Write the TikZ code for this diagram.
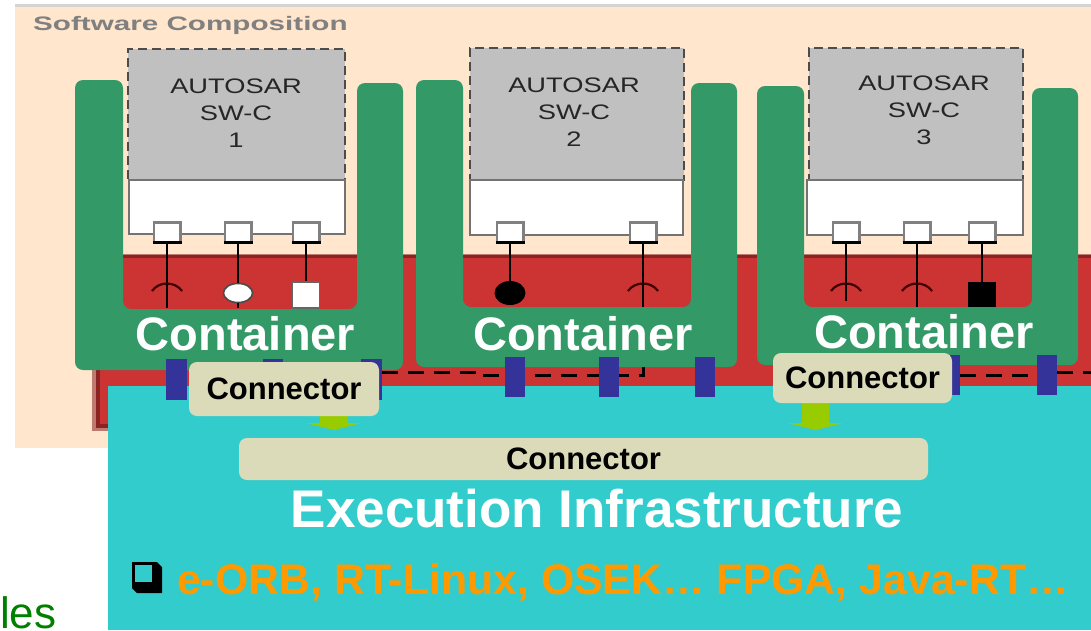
\documentclass[tikz,border=0pt]{standalone}
\usepackage{fontspec}
\usetikzlibrary{shapes.geometric}
\setmainfont{Liberation Sans}
\newfontfamily\widesans[FakeStretch=1.3]{Liberation Sans}
\newfontfamily\scfont[FakeStretch=1.52]{Liberation Sans}
\newcommand\pxsize[1]{\fontsize{#1}{#1}\selectfont}
\definecolor{peach}{HTML}{FFE6CC}
\definecolor{busred}{HTML}{CC3333}
\definecolor{darkred}{HTML}{8B2323}
\definecolor{cgreen}{HTML}{339966}
\definecolor{cyanbg}{HTML}{33CCCC}
\definecolor{padblue}{HTML}{333399}
\definecolor{tan}{HTML}{DCDBB9}
\definecolor{lime}{HTML}{99CC00}
\definecolor{orangetxt}{HTML}{FF9900}
\definecolor{swcgray}{HTML}{C0C0C0}
\definecolor{lesgreen}{HTML}{008000}
\begin{document}
\begin{tikzpicture}[x=1pt,y=-1pt,
  swgray/.style={draw=black!70, fill=swcgray, line width=2.5pt, dash pattern=on 9pt off 5pt, inner sep=0pt, outer sep=0pt},
  swwhite/.style={draw=black!55, fill=white, line width=2pt, inner sep=0pt, outer sep=0pt},
  swtext/.style={text=black!85, font=\widesans\fontsize{21}{27}\selectfont, align=center, inner sep=0pt},
  portbox/.style={draw=black!50, fill=white, line width=2.5pt, minimum width=26.5pt, minimum height=19.5pt, inner sep=0pt, outer sep=0pt},
  portline/.style={black, line width=2.5pt},
  socket/.style={draw=black!75!red, line width=2.2pt},
  contfill/.style={fill=cgreen, rounded corners=8pt},
  ctext/.style={text=white, font=\bfseries\pxsize{47}, inner sep=0pt},
  bluepad/.style={fill=padblue, minimum width=20pt, minimum height=40pt, inner sep=0pt},
  conlabel/.style={fill=tan, rounded corners=8pt, inner sep=0pt, font=\bfseries\pxsize{31}},
  busline/.style={black, line width=3pt, dash pattern=on 16pt off 10pt},
  arrowfill/.style={fill=lime},
  whiteport/.style={draw=black!70, fill=white, line width=1.5pt, ellipse, minimum width=29pt, minimum height=19pt, inner sep=0pt}
]
\useasboundingbox (0,0) rectangle (1091,630);
\fill[white] (0,0) rectangle (1091,630);
% background areas
\fill[peach] (15,6) rectangle (1091,448);
\fill[black!17] (15,4) rectangle (1091,7);
\node[anchor=base west, inner sep=0pt, text=black!50, font=\scfont\bfseries\pxsize{19.5}] (title) at (33,30.5) {Software Composition};
% bus band
\fill[darkred, opacity=0.55] (92,254) rectangle (1091,431);
\fill[darkred] (96,255) rectangle (1091,428);
\fill[busred] (100,258) rectangle (1091,424);
% execution infrastructure area
\fill[cyanbg] (108,386) rectangle (1091,630);

% ports and symbols
\node[portbox] (p11) at (167,232) {};
\node[portbox] (p12) at (238,232) {};
\node[portbox] (p13) at (306,232) {};
\node[portbox] (p21) at (510,232) {};
\node[portbox] (p22) at (643,232) {};
\node[portbox] (p31) at (846,232) {};
\node[portbox] (p32) at (917,232) {};
\node[portbox] (p33) at (982,232) {};

\coordinate (s11) at (167,287);
\node[whiteport] (s12) at (238,293) {};
\node[draw=black!60, fill=white, line width=1.5pt, minimum width=27pt, minimum height=26pt, inner sep=0pt] (s13) at (306,295) {};
\node[fill=black, ellipse, minimum width=31pt, minimum height=24pt, inner sep=0pt] (s21) at (510,293) {};
\coordinate (s22) at (643,287);
\coordinate (s31) at (846,287);
\coordinate (s32) at (917,287);
\node[fill=black, minimum width=28pt, minimum height=25pt, inner sep=0pt] (s33) at (982,294.5) {};

% blue pads and dashed assembly lines
\coordinate (busend) at (1091,372);
\node[bluepad] (b11) at (176.5,379.5) {};
\node[bluepad] (b12) at (273,379.5) {};
\node[bluepad] (b13) at (371.5,379.5) {};
\node[bluepad] (b21) at (515,377) {};
\node[bluepad] (b22) at (609,377) {};
\node[bluepad] (b23) at (705,377) {};
\node[bluepad] (b31) at (810,375) {};
\node[bluepad] (b32) at (950,375) {};
\node[bluepad] (b33) at (1047,375) {};
\draw[busline] (b13.east |- 0,372) -- (477,372) -- (477,375) -- (643,375) -- (643,308);
\draw[busline] (b32.east |- 0,375) -- (b33.west |- 0,375);
\draw[busline] (b33.east |- 0,372) -- (busend);

% port lines
\draw[portline] (p11.south) -- (167,308);
\draw[portline] (p12.south) -- (238,308);
\draw[portline] (p13.south) -- (s13.north);
\draw[portline] (p21.south) -- (s21.north);
\draw[portline] (p22.south) -- (643,308);
\draw[portline] (p31.south) -- (846,301);
\draw[portline] (p32.south) -- (917,308);
\draw[portline] (p33.south) -- (s33.north);
% redraw symbols over lines
\node[whiteport] at (s12) {};
\foreach \s in {s11,s22,s31,s32}{
  \draw[socket] ([shift={(-15,4)}]\s) .. controls ([shift={(-8,-6)}]\s) and ([shift={(8,-6)}]\s) .. ([shift={(15,4)}]\s);
}

% containers
\fill[contfill] (75,370) -- (75,80) -- (123,80) -- (123,309) -- (357,309) -- (357,83) -- (403,83) -- (403,370) -- cycle;
\fill[contfill] (416,367) -- (416,80) -- (463,80) -- (463,307) -- (691,307) -- (691,83) -- (737,83) -- (737,367) -- cycle;
\fill[contfill] (757,365) -- (757,86) -- (804,86) -- (804,307) -- (1032,307) -- (1032,88) -- (1078,88) -- (1078,365) -- cycle;
\node[ctext, anchor=base] (c1) at (245.5,350) {Container};
\node[ctext, anchor=base] (c2) at (583,350) {Container};
\node[ctext, anchor=base] (c3) at (924,348) {Container};

% blue pads on top of containers
\foreach \b in {b11,b12,b13,b21,b22,b23,b31,b32,b33}{
  \fill[padblue] (\b.north west) rectangle (\b.south east);
}

% SW-C boxes
\node[swgray, minimum width=217pt, minimum height=131pt] (g1) at (236.5,114.5) {};
\node[swgray, minimum width=214pt, minimum height=132pt] (g2) at (577,114) {};
\node[swgray, minimum width=214pt, minimum height=132pt] (g3) at (916,114) {};
\node[swwhite, minimum width=216pt, minimum height=54pt] (w1) at (237,207) {};
\node[swwhite, minimum width=213pt, minimum height=55pt] (w2) at (576.5,207.5) {};
\node[swwhite, minimum width=216pt, minimum height=55pt] (w3) at (915,207.5) {};
\node[swtext] (t1) at (236,113) {AUTOSAR\\SW-C\\1};
\node[swtext] (t2) at (574,112) {AUTOSAR\\SW-C\\2};
\node[swtext] (t3) at (924,110) {AUTOSAR\\SW-C\\3};
% ports on top of white parts
\foreach \x in {167,238,306,510,643,846,917,982}{
  \node[portbox] at (\x,232) {};
  \draw[black, line width=2.5pt] (\x-14.5,242.5) -- (\x+14.5,242.5);
}

% connector arrows
\fill[arrowfill] (320,414) -- (348,414) -- (348,423) -- (361,423) -- (334,430) -- (306,423) -- (320,423) -- cycle;
\fill[arrowfill] (802,400) -- (829,400) -- (829,423) -- (843,423) -- (815.5,430) -- (788,423) -- (802,423) -- cycle;
% connector labels
\node[conlabel, minimum width=190pt, minimum height=54pt] (lab1) at (284,389) {Connector};
\node[conlabel, minimum width=179pt, minimum height=50pt] (lab2) at (862.5,378) {Connector};
\node[conlabel, minimum width=689pt, minimum height=42pt] (bar) at (583.5,459) {Connector};

% execution infrastructure
\node[text=white, font=\bfseries\pxsize{53}, inner sep=0pt, anchor=base] (exec) at (597,527) {Execution Infrastructure};
\fill[black] (132,562) -- (157,562) -- (162,567) -- (162,593) -- (137,593) -- (132,588) -- cycle;
\fill[cyanbg] (135,565) rectangle (152,582);
\node[text=orangetxt, font=\bfseries\pxsize{42.8}, inner sep=0pt, anchor=base west] (plat) at (177,594) {e-ORB, RT-Linux, OSEK… FPGA, Java-RT…};

\node[text=lesgreen, font=\pxsize{44}, inner sep=0pt, anchor=base west] (les) at (0,628) {les};
\end{tikzpicture}
\end{document}
